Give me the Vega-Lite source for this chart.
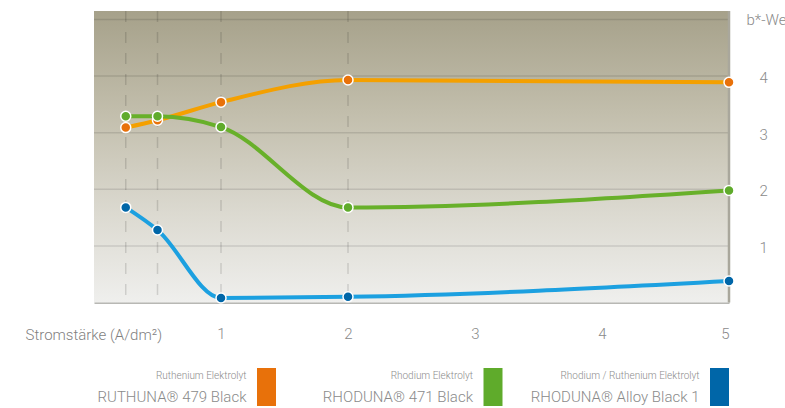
{
  "$schema": "https://vega.github.io/schema/vega-lite/v6.json",
  "padding": {"left": 25, "top": 9, "right": 0, "bottom": 0},
  "background": "white",
  "config": {"font": "Roboto", "view": {"stroke": null}},
  "datasets": {
    "lines": [
      {"series": "RUTHUNA 479 Black", "x": 0.25, "y": 3.09},
      {"series": "RUTHUNA 479 Black", "x": 0.5, "y": 3.22},
      {"series": "RUTHUNA 479 Black", "x": 1, "y": 3.54},
      {"series": "RUTHUNA 479 Black", "x": 2, "y": 3.93},
      {"series": "RUTHUNA 479 Black", "x": 5, "y": 3.89},
      {"series": "RHODUNA 471 Black", "x": 0.25, "y": 3.29},
      {"series": "RHODUNA 471 Black", "x": 0.5, "y": 3.29},
      {"series": "RHODUNA 471 Black", "x": 1, "y": 3.1},
      {"series": "RHODUNA 471 Black", "x": 2, "y": 1.68},
      {"series": "RHODUNA 471 Black", "x": 5, "y": 1.98},
      {"series": "RHODUNA Alloy Black 1", "x": 0.25, "y": 1.68},
      {"series": "RHODUNA Alloy Black 1", "x": 0.5, "y": 1.28},
      {"series": "RHODUNA Alloy Black 1", "x": 1, "y": 0.08},
      {"series": "RHODUNA Alloy Black 1", "x": 2, "y": 0.1},
      {"series": "RHODUNA Alloy Black 1", "x": 5, "y": 0.38}
    ],
    "hgrid": [{"v": 1}, {"v": 2}, {"v": 3}, {"v": 4}, {"v": 5}],
    "vdash": [{"v": 0.25}, {"v": 0.5}, {"v": 1}, {"v": 2}],
    "legend": [
      {"series": "RUTHUNA 479 Black", "sub": "Ruthenium Elektrolyt", "label": "RUTHUNA® 479 Black"},
      {"series": "RHODUNA 471 Black", "sub": "Rhodium Elektrolyt", "label": "RHODUNA® 471 Black"},
      {"series": "RHODUNA Alloy Black 1", "sub": "Rhodium / Ruthenium Elektrolyt", "label": "RHODUNA® Alloy Black 1"}
    ]
  },
  "spacing": 26,
  "vconcat": [
    {
      "width": 635,
      "height": 291.5,
      "layer": [
        {
          "data": {"values": [{}]},
          "mark": {
            "type": "rect",
            "fill": {
              "gradient": "linear", "x1": 0, "y1": 0, "x2": 0, "y2": 1,
              "stops": [
                {"offset": 0, "color": "#a6a18a"},
                {"offset": 0.35, "color": "#c2beac"},
                {"offset": 0.7, "color": "#dcdad1"},
                {"offset": 1, "color": "#efefed"}
              ]
            }
          },
          "encoding": {
            "x": {"datum": 0, "type": "quantitative", "scale": {"domain": [0, 5], "nice": false, "zero": true}},
            "x2": {"datum": 5},
            "y": {"datum": 0, "type": "quantitative", "scale": {"domain": [0, 5.15], "nice": false, "zero": true}},
            "y2": {"datum": 5.15}
          }
        },
        {
          "data": {"name": "hgrid"},
          "mark": {"type": "rule", "stroke": "#000000", "strokeOpacity": 0.11, "strokeWidth": 1.5},
          "encoding": {
            "y": {"field": "v", "type": "quantitative", "scale": {"domain": [0, 5.15], "nice": false}}
          }
        },
        {
          "data": {"name": "vdash"},
          "mark": {"type": "rule", "stroke": "#000000", "strokeOpacity": 0.13, "strokeWidth": 1.5, "strokeDash": [11, 10]},
          "encoding": {
            "x": {"field": "v", "type": "quantitative", "scale": {"domain": [0, 5], "nice": false}}
          }
        },
        {
          "data": {"values": [{}]},
          "mark": {"type": "rule", "stroke": "#a9a79c", "strokeWidth": 2.5},
          "encoding": {
            "x": {"datum": 5, "type": "quantitative", "scale": {"domain": [0, 5], "nice": false}}
          }
        },
        {
          "data": {"name": "lines"},
          "mark": {"type": "line", "interpolate": "monotone", "strokeWidth": 4},
          "encoding": {
            "x": {
              "field": "x", "type": "quantitative",
              "scale": {"domain": [0, 5], "nice": false},
              "axis": {
                "values": [1, 2, 3, 4, 5], "format": "d",
                "title": "Stromstärke (A/dm²)",
                "titleX": -69, "titleY": 36.5, "titleAlign": "left",
                "titleBaseline": "alphabetic",
                "titleFontSize": 15, "titleFontWeight": 300, "titleColor": "#7f7f7f",
                "labelFontSize": 15, "labelFontWeight": 300, "labelColor": "#8a8a8a",
                "labelBaseline": "alphabetic", "labelPadding": 36,
                "ticks": false, "grid": false,
                "domain": true, "domainColor": "#b8b8b4", "domainWidth": 2
              }
            },
            "y": {
              "field": "y", "type": "quantitative",
              "scale": {"domain": [0, 5.15], "nice": false},
              "axis": {
                "orient": "right",
                "values": [1, 2, 3, 4], "format": "d",
                "title": "b*-We",
                "titleAngle": 0, "titleX": 17, "titleY": 13, "titleAlign": "left",
                "titleBaseline": "alphabetic",
                "titleFontSize": 15, "titleFontWeight": 300, "titleColor": "#8a8a8a",
                "labelFontSize": 15, "labelFontWeight": 300, "labelColor": "#8a8a8a",
                "labelPadding": 30, "labelOffset": 1.5,
                "ticks": false, "grid": false, "domain": false
              }
            },
            "stroke": {
              "field": "series", "type": "nominal", "legend": null,
              "scale": {
                "domain": ["RHODUNA Alloy Black 1", "RHODUNA 471 Black", "RUTHUNA 479 Black"],
                "range": ["#1ca0e0", "#68b02a", "#f4a000"]
              }
            }
          }
        },
        {
          "data": {"name": "lines"},
          "mark": {"type": "point", "filled": true, "size": 100, "stroke": "white", "strokeWidth": 1.5, "opacity": 1},
          "encoding": {
            "x": {"field": "x", "type": "quantitative", "scale": {"domain": [0, 5], "nice": false}},
            "y": {"field": "y", "type": "quantitative", "scale": {"domain": [0, 5.15], "nice": false}},
            "fill": {
              "field": "series", "type": "nominal", "legend": null,
              "scale": {
                "domain": ["RUTHUNA 479 Black", "RHODUNA 471 Black", "RHODUNA Alloy Black 1"],
                "range": ["#e8710a", "#5fab2b", "#0066a8"]
              }
            }
          }
        }
      ]
    },
    {
      "width": 635,
      "height": 38,
      "data": {"name": "legend"},
      "encoding": {
        "x": {
          "field": "series", "type": "nominal", "sort": null, "axis": null,
          "scale": {"type": "point", "range": [172.5, 625.5], "padding": 0}
        }
      },
      "layer": [
        {
          "mark": {"type": "bar", "width": 19},
          "encoding": {
            "fill": {
              "field": "series", "type": "nominal", "legend": null,
              "scale": {
                "domain": ["RUTHUNA 479 Black", "RHODUNA 471 Black", "RHODUNA Alloy Black 1"],
                "range": ["#ee7306", "#62ad2c", "#0068a8"]
              }
            }
          }
        },
        {
          "mark": {"type": "text", "align": "right", "baseline": "alphabetic", "dx": -20, "dy": -8, "fontSize": 10, "fontWeight": 300, "color": "#8c8c8c"},
          "encoding": {"text": {"field": "sub"}}
        },
        {
          "mark": {"type": "text", "align": "right", "baseline": "alphabetic", "dx": -20, "dy": 15, "fontSize": 15, "fontWeight": 300, "color": "#8a8a8a"},
          "encoding": {"text": {"field": "label"}}
        }
      ]
    }
  ]
}
